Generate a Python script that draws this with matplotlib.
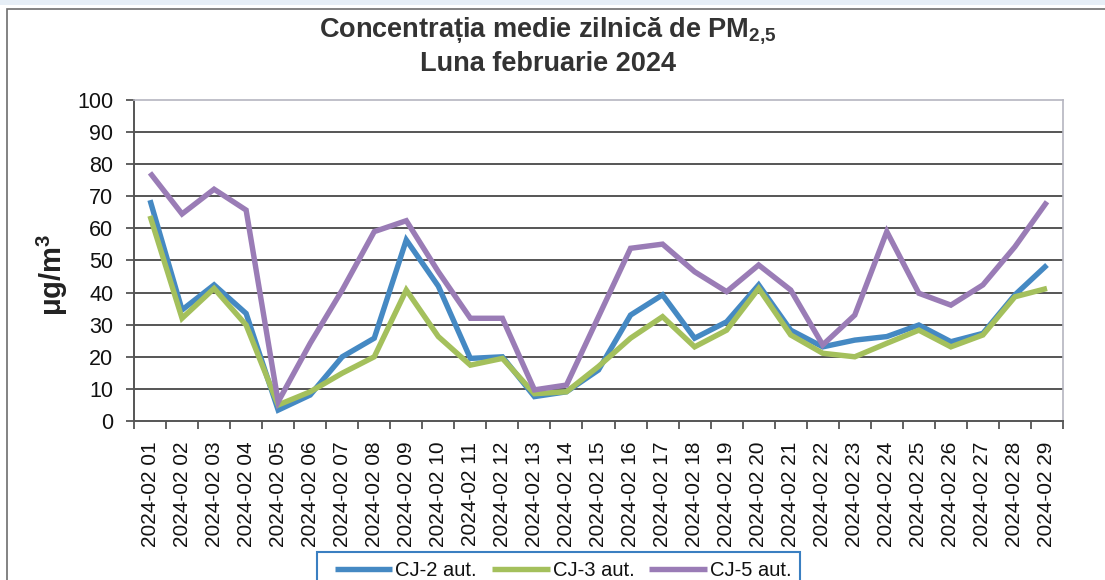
import matplotlib
matplotlib.use("Agg")
import matplotlib.pyplot as plt
from matplotlib.patches import Rectangle
from matplotlib.ticker import FixedLocator

plt.rcParams['font.family'] = ['Liberation Sans', 'DejaVu Sans']
plt.rcParams['mathtext.fontset'] = 'custom'
plt.rcParams['mathtext.rm'] = 'Liberation Sans'
plt.rcParams['mathtext.bf'] = 'Liberation Sans:bold'

days = [f"2024-02 {d:02d}" for d in range(1, 30)]

cj2 = [68.8, 34.6, 42.4, 33.5, 3.4, 8.1, 20.0, 25.8, 56.4, 42.0,
       19.5, 20.0, 7.6, 9.1, 15.9, 33.0, 39.3, 25.8, 30.9, 42.4,
       28.3, 23.1, 25.2, 26.3, 29.9, 24.7, 27.3, 39.3, 48.6]
cj3 = [63.9, 32.0, 41.3, 29.9, 5.0, 9.1, 14.9, 20.0, 40.8, 26.3,
       17.4, 19.5, 8.5, 9.1, 17.0, 25.8, 32.5, 23.1, 28.3, 41.3,
       26.8, 21.1, 20.0, 24.2, 28.3, 23.1, 26.8, 38.7, 41.3]
cj5 = [77.3, 64.5, 72.2, 65.7, 6.0, 24.2, 40.8, 59.0, 62.4, 46.5,
       32.0, 32.0, 9.7, 11.2, 32.5, 53.8, 55.1, 46.5, 40.3, 48.6,
       40.8, 23.7, 33.0, 59.0, 39.8, 36.1, 42.4, 54.3, 68.3]

series_names = ["CJ-2 aut.", "CJ-3 aut.", "CJ-5 aut."]
colors = ["#4589c3", "#a4c05c", "#9a7cb6"]

W, H = 1105, 580
fig = plt.figure(figsize=(W / 100, H / 100), dpi=100)
fig.patch.set_facecolor("white")

# outer chart frame
fig.patches.append(Rectangle((7 / W, -0.1), 1.2, (H - 9) / H + 0.1,
                             transform=fig.transFigure, fill=False,
                             edgecolor="#6e6e6e", linewidth=1.2))
fig.patches.append(Rectangle((0, (H - 5) / H), 1, 5 / H,
                             transform=fig.transFigure, facecolor="#e6eef6",
                             edgecolor="none"))

ax = fig.add_axes([134 / W, (H - 421) / H, (1063 - 134) / W, (421 - 100) / H])

x = list(range(len(days)))
for vals, name, c in zip([cj2, cj3, cj5], series_names, colors):
    ax.plot(x, vals, color=c, linewidth=3.9, label=name,
            solid_joinstyle="miter", solid_capstyle="butt", zorder=3)

ax.set_xlim(-0.5, len(days) - 0.5)
ax.set_ylim(0, 100)
ax.set_yticks(range(0, 101, 10))
ax.yaxis.grid(True, color="#555555", linewidth=1.4, zorder=1)
ax.set_axisbelow(True)
ax.get_ygridlines()[-1].set_visible(False)
ax.get_ygridlines()[0].set_visible(False)

ax.set_xticks(x)
ax.set_xticklabels(days, rotation=90, fontsize=15)
ax.xaxis.set_minor_locator(FixedLocator([i - 0.5 for i in range(len(days) + 1)]))
ax.tick_params(axis="x", which="major", length=0, pad=15, colors="#111111")
ax.tick_params(axis="x", which="minor", length=6, width=1.3, direction="out",
               color="#555555")
ax.tick_params(axis="y", length=6, width=1.3, direction="out", color="#555555",
               labelsize=15.5, pad=9, labelcolor="#111111")

for s in ["left", "bottom"]:
    ax.spines[s].set_color("#555555")
    ax.spines[s].set_linewidth(1.4)
for s in ["top", "right"]:
    ax.spines[s].set_color("#b5b5c0")
    ax.spines[s].set_linewidth(1.2)

fig.text(548 / W, 1 - 31 / H, r"Concentrația medie zilnică de PM$_{\mathbf{2{,}5}}$",
         ha="center", va="center", fontsize=19.5, fontweight="bold", color="#333333")
fig.text(548 / W, 1 - 64 / H, "Luna februarie 2024",
         ha="center", va="center", fontsize=19.5, fontweight="bold", color="#333333")

fig.text(52 / W, 1 - 275 / H, r"μg/m$^{\mathbf{3}}$", rotation=90,
         ha="center", va="center", fontsize=21, fontweight="bold", color="#222222")

# legend frame (extends past the bottom edge, as in the reference)
fig.patches.append(Rectangle((317 / W, -0.05), (800 - 317) / W, 0.05 + (H - 552) / H,
                             transform=fig.transFigure, fill=False,
                             edgecolor="#3a7fc1", linewidth=1.5, zorder=5))
leg = fig.legend(loc="upper left", bbox_to_anchor=(335 / W, 1 - 561 / H),
                 bbox_transform=fig.transFigure, ncol=3, fontsize=14.5,
                 frameon=False, handlelength=2.85,
                 handletextpad=0.15, columnspacing=0.75, borderpad=0,
                 borderaxespad=0)
for t in leg.get_texts():
    t.set_color("#111111")

fig.savefig("out.png", dpi=100)
